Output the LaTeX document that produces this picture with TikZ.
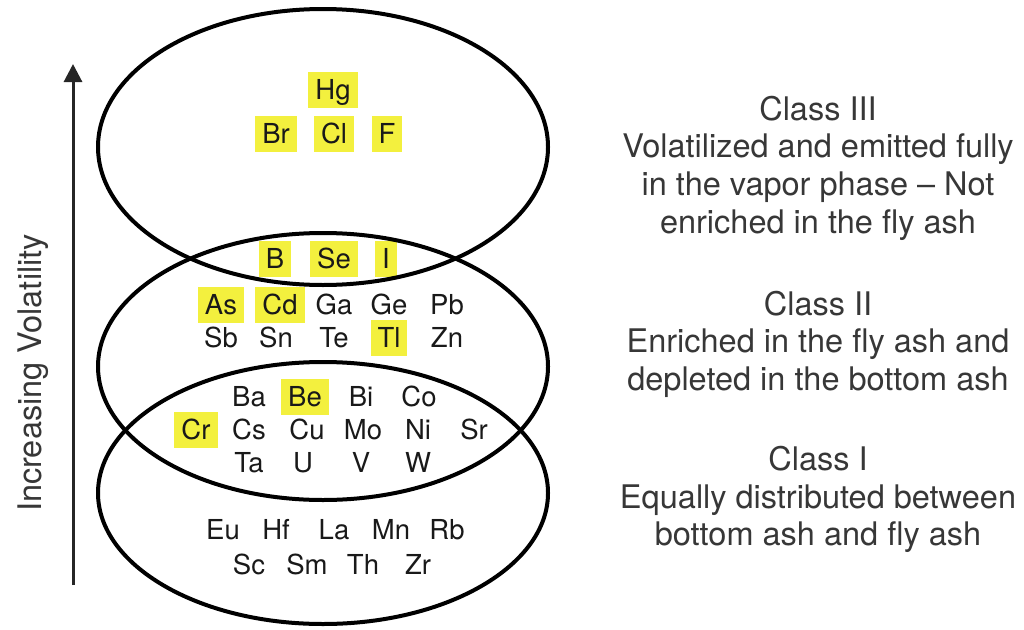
\documentclass[tikz,border=0pt]{standalone}
\usepackage{fontspec}
\setmainfont{TeX Gyre Heros}
\usetikzlibrary{arrows.meta}
\definecolor{hlyellow}{RGB}{243,240,62}
\definecolor{txtgray}{RGB}{55,55,55}
\begin{document}
\begin{tikzpicture}[x=1pt,y=-1pt,
  elem/.style={font=\fontsize{27.5}{30}\selectfont, text height=19.7pt, text depth=0pt, inner xsep=7pt, inner ysep=8pt, text=black!90},
  hl/.style={elem, fill=hlyellow},
  cls/.style={font=\fontsize{32.5}{38}\selectfont, text=txtgray, anchor=base, inner sep=0pt},
  ring/.style={line width=4pt, black}]
\useasboundingbox (0,0) rectangle (1024,629);
% Class III elements
\node[hl] (Hg) at (333,90) {Hg};
\foreach \n/\x in {Br/276,Cl/334,F/387} \node[hl] (\n) at (\x,134) {\n};
\foreach \n/\x in {B/275,Se/334,I/386} \node[hl] (\n) at (\x,259) {\n};
% Class II elements
\foreach \n/\x in {As/221,Cd/280} \node[hl] (\n) at (\x,305) {\n};
\foreach \n/\x in {Ga/334,Ge/389,Pb/447} \node[elem] (\n) at (\x,305) {\n};
\foreach \n/\x in {Sb/221,Sn/276,Te/334,Zn/447} \node[elem] (\n) at (\x,338) {\n};
\node[hl] (Tl) at (389,338) {Tl};
% Overlap II/I
\foreach \n/\x in {Ba/249,Bi/361,Co/419} \node[elem] (\n) at (\x,397) {\n};
\node[hl] (Be) at (305,397) {Be};
\node[hl] (Cr) at (196,430) {Cr};
\foreach \n/\x in {Cs/249,Cu/307,Mo/363,Ni/418,Sr/474} \node[elem] (\n) at (\x,430) {\n};
\foreach \n/\x in {Ta/249,U/303,V/361,W/418} \node[elem] (\n) at (\x,463) {\n};
% Class I elements
\foreach \n/\x in {Eu/223,Hf/276,La/334,Mn/391,Rb/447} \node[elem] (\n) at (\x,530) {\n};
\foreach \n/\x in {Sc/249,Sm/307,Th/363,Zr/418} \node[elem] (\n) at (\x,565) {\n};
% ellipses
\draw[ring] (323,147) ellipse [x radius=225pt, y radius=138pt];
\draw[ring] (323,366.5) ellipse [x radius=225pt, y radius=133.5pt];
\draw[ring] (323,493) ellipse [x radius=225pt, y radius=131pt];
% arrow
\coordinate (abot) at (73,585);
\coordinate (atop) at (73,64);
\draw[line width=3pt, black!85, -{Triangle[length=18pt,width=18pt]}] (abot) -- (atop);
\node[cls, rotate=90] (vol) at (41,373) {Increasing Volatility};
% class texts
\node[cls] (c3a) at (818,120) {Class III};
\node[cls] (c3b) at (818,157) {Volatilized and emitted fully};
\node[cls] (c3c) at (818,195) {in the vapor phase -- Not};
\node[cls] (c3d) at (818,233) {enriched in the fly ash};
\node[cls] (c2a) at (818,315) {Class II};
\node[cls] (c2b) at (818,352) {Enriched in the fly ash and};
\node[cls] (c2c) at (818,390) {depleted in the bottom ash};
\node[cls] (c1a) at (818,470) {Class I};
\node[cls] (c1b) at (818,508) {Equally distributed between};
\node[cls] (c1c) at (818,545) {bottom ash and fly ash};
\end{tikzpicture}
\end{document}
